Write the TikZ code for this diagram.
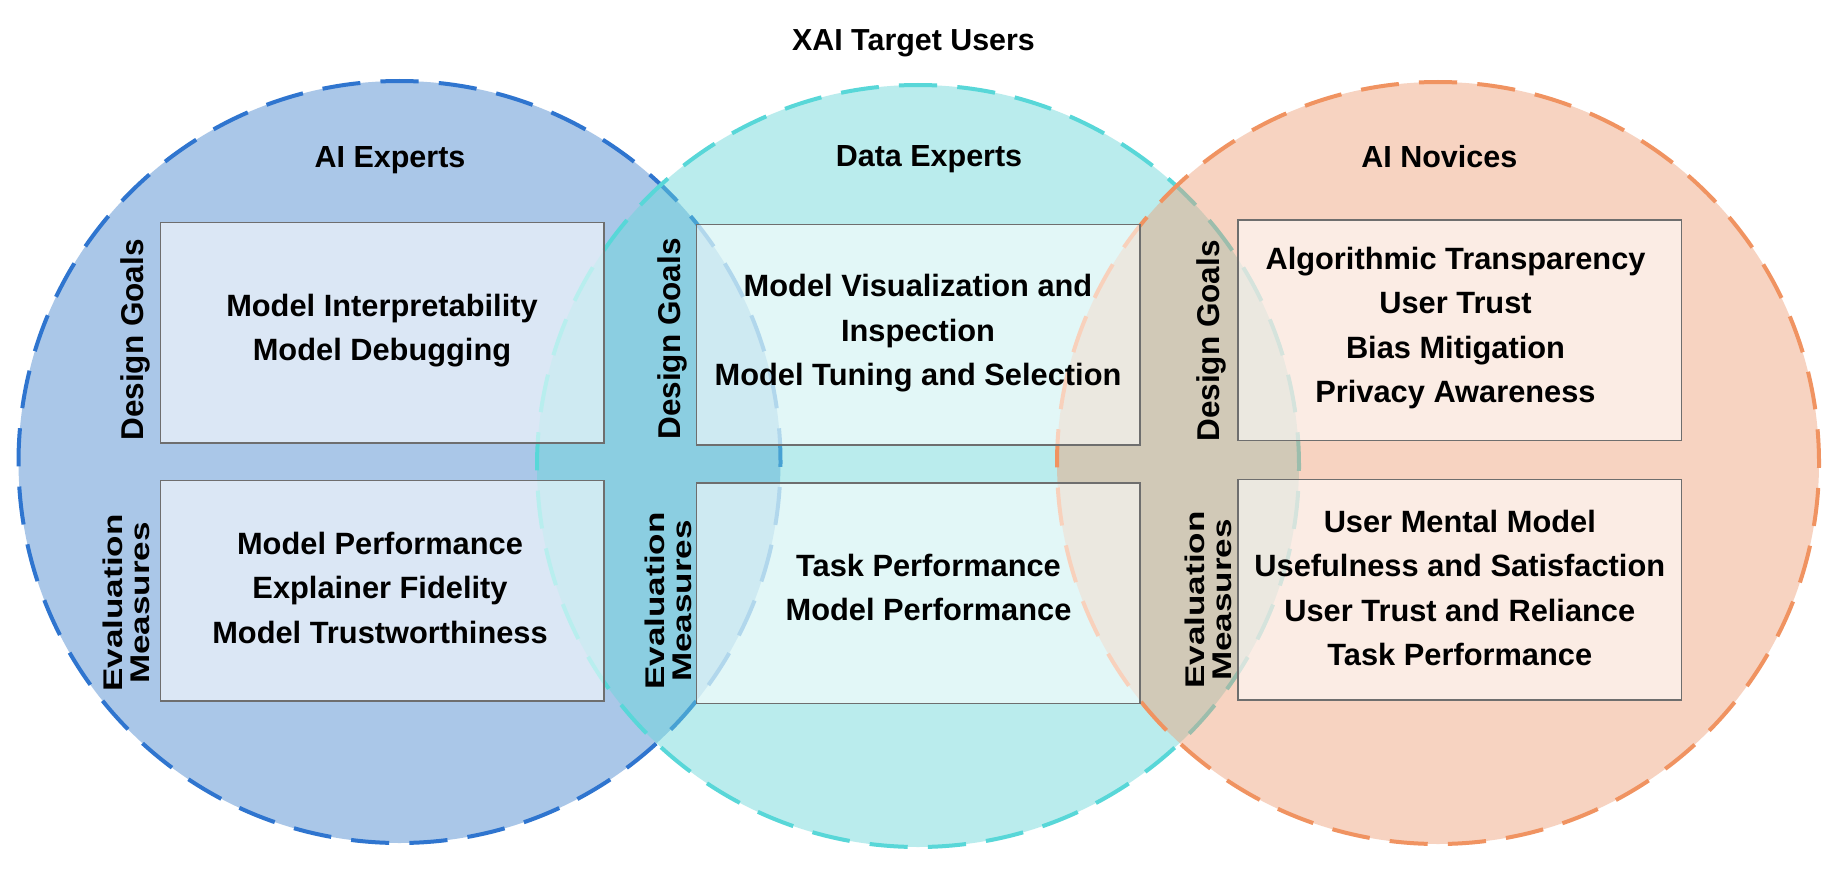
\documentclass[tikz,border=0pt]{standalone}
\usepackage{fontspec}
\setmainfont{Liberation Sans}
\usepackage{graphicx}
\newcommand\stacklines[2]{\vtop{\baselineskip=#1\relax\halign{\hfil##\hfil\cr#2\crcr}}}
\newcommand\setfs[2]{\fontsize{#1}{#2}\selectfont\bfseries}
\definecolor{lfill}{RGB}{68,132,206}
\definecolor{mfill}{RGB}{102,215,217}
\definecolor{rfill}{RGB}{239,159,119}
\definecolor{ldraw}{RGB}{47,117,207}
\definecolor{mdraw}{RGB}{88,215,216}
\definecolor{rdraw}{RGB}{240,147,97}
\definecolor{boxgray}{RGB}{110,110,110}
\tikzset{
  venn/.style={line width=4pt, dash pattern=on 38.2pt off 20.188pt, dash phase=4.48pt, fill opacity=0.45},
  cbox/.style={draw=boxgray, line width=1.5pt, fill=white, fill opacity=0.58, inner sep=0pt,
    minimum width=443.5pt, minimum height=220.5pt},
  boxtext/.style={inner sep=0pt, anchor=base, font=\setfs{30.8pt}{44.5pt}},
  headtext/.style={inner sep=0pt, anchor=base, font=\setfs{30.5pt}{36pt}},
  dglabel/.style={inner sep=0pt, anchor=base, rotate=90, font=\setfs{31.5pt}{36pt}},
  emlabel/.style={inner sep=0pt, anchor=base, rotate=90, font=\setfs{27pt}{27.5pt}}
}
\begin{document}
\begin{tikzpicture}[x=1pt,y=1pt]
\fill[white] (0,0) rectangle (1827,-872);
\useasboundingbox (0,0) rectangle (1827,-872);

% circles
\coordinate (lc) at (399.5,-462);
\coordinate (mc) at (918,-466);
\coordinate (rc) at (1438,-463);
\filldraw[venn, fill=lfill, draw=ldraw] (lc) circle[radius=381];
\filldraw[venn, fill=mfill, draw=mdraw] (mc) circle[radius=381];
\filldraw[venn, fill=rfill, draw=rdraw] (rc) circle[radius=381];

% title and headers
\node[headtext, font=\setfs{30.4pt}{36pt}] (title) at (913.5,-50.7) {XAI Target Users};
\node[headtext] (hl) at (390,-167.3) {AI Experts};
\node[headtext] (hm) at (929,-166.7) {Data Experts};
\node[headtext] (hr) at (1439.3,-167) {AI Novices};

% boxes
\node[cbox] (bldg) at (382,-332.85) {};
\node[cbox] (blem) at (382,-590.5) {};
\node[cbox] (bmdg) at (918,-334.65) {};
\node[cbox] (bmem) at (918,-593.35) {};
\node[cbox] (brdg) at (1459.8,-330.3) {};
\node[cbox] (brem) at (1459.8,-589.5) {};

% box texts
\node[boxtext] (tldg) at (382,-316) {\stacklines{44.5pt}{Model Interpretability\cr Model Debugging}};
\node[boxtext] (tlem) at (380,-554) {\stacklines{44.5pt}{Model Performance\cr Explainer Fidelity\cr Model Trustworthiness}};
\node[boxtext] (tmdg) at (918,-296.7) {\stacklines{44.5pt}{Model Visualization and\cr Inspection\cr Model Tuning and Selection}};
\node[boxtext] (tmem) at (928.5,-576) {\stacklines{44.5pt}{Task Performance\cr Model Performance}};
\node[boxtext] (trdg) at (1455.5,-269) {\stacklines{44.5pt}{Algorithmic Transparency\cr User Trust\cr Bias Mitigation\cr Privacy Awareness}};
\node[boxtext] (trem) at (1459.8,-532.3) {\stacklines{44.5pt}{User Mental Model\cr Usefulness and Satisfaction\cr User Trust and Reliance\cr Task Performance}};

% side labels
\node[dglabel] (lldg) at (143,-340) {Design Goals};
\node[dglabel] (lmdg) at (680,-339) {Design Goals};
\node[dglabel] (lrdg) at (1219.5,-341) {Design Goals};
\node[emlabel] (llem) at (122,-603) {\scalebox{1.3}[1]{\stacklines{27.5pt}{Evaluation\cr Measures}}};
\node[emlabel] (lmem) at (664,-601) {\scalebox{1.3}[1]{\stacklines{27.5pt}{Evaluation\cr Measures}}};
\node[emlabel] (lrem) at (1204,-600) {\scalebox{1.3}[1]{\stacklines{27.5pt}{Evaluation\cr Measures}}};
\end{tikzpicture}
\end{document}
